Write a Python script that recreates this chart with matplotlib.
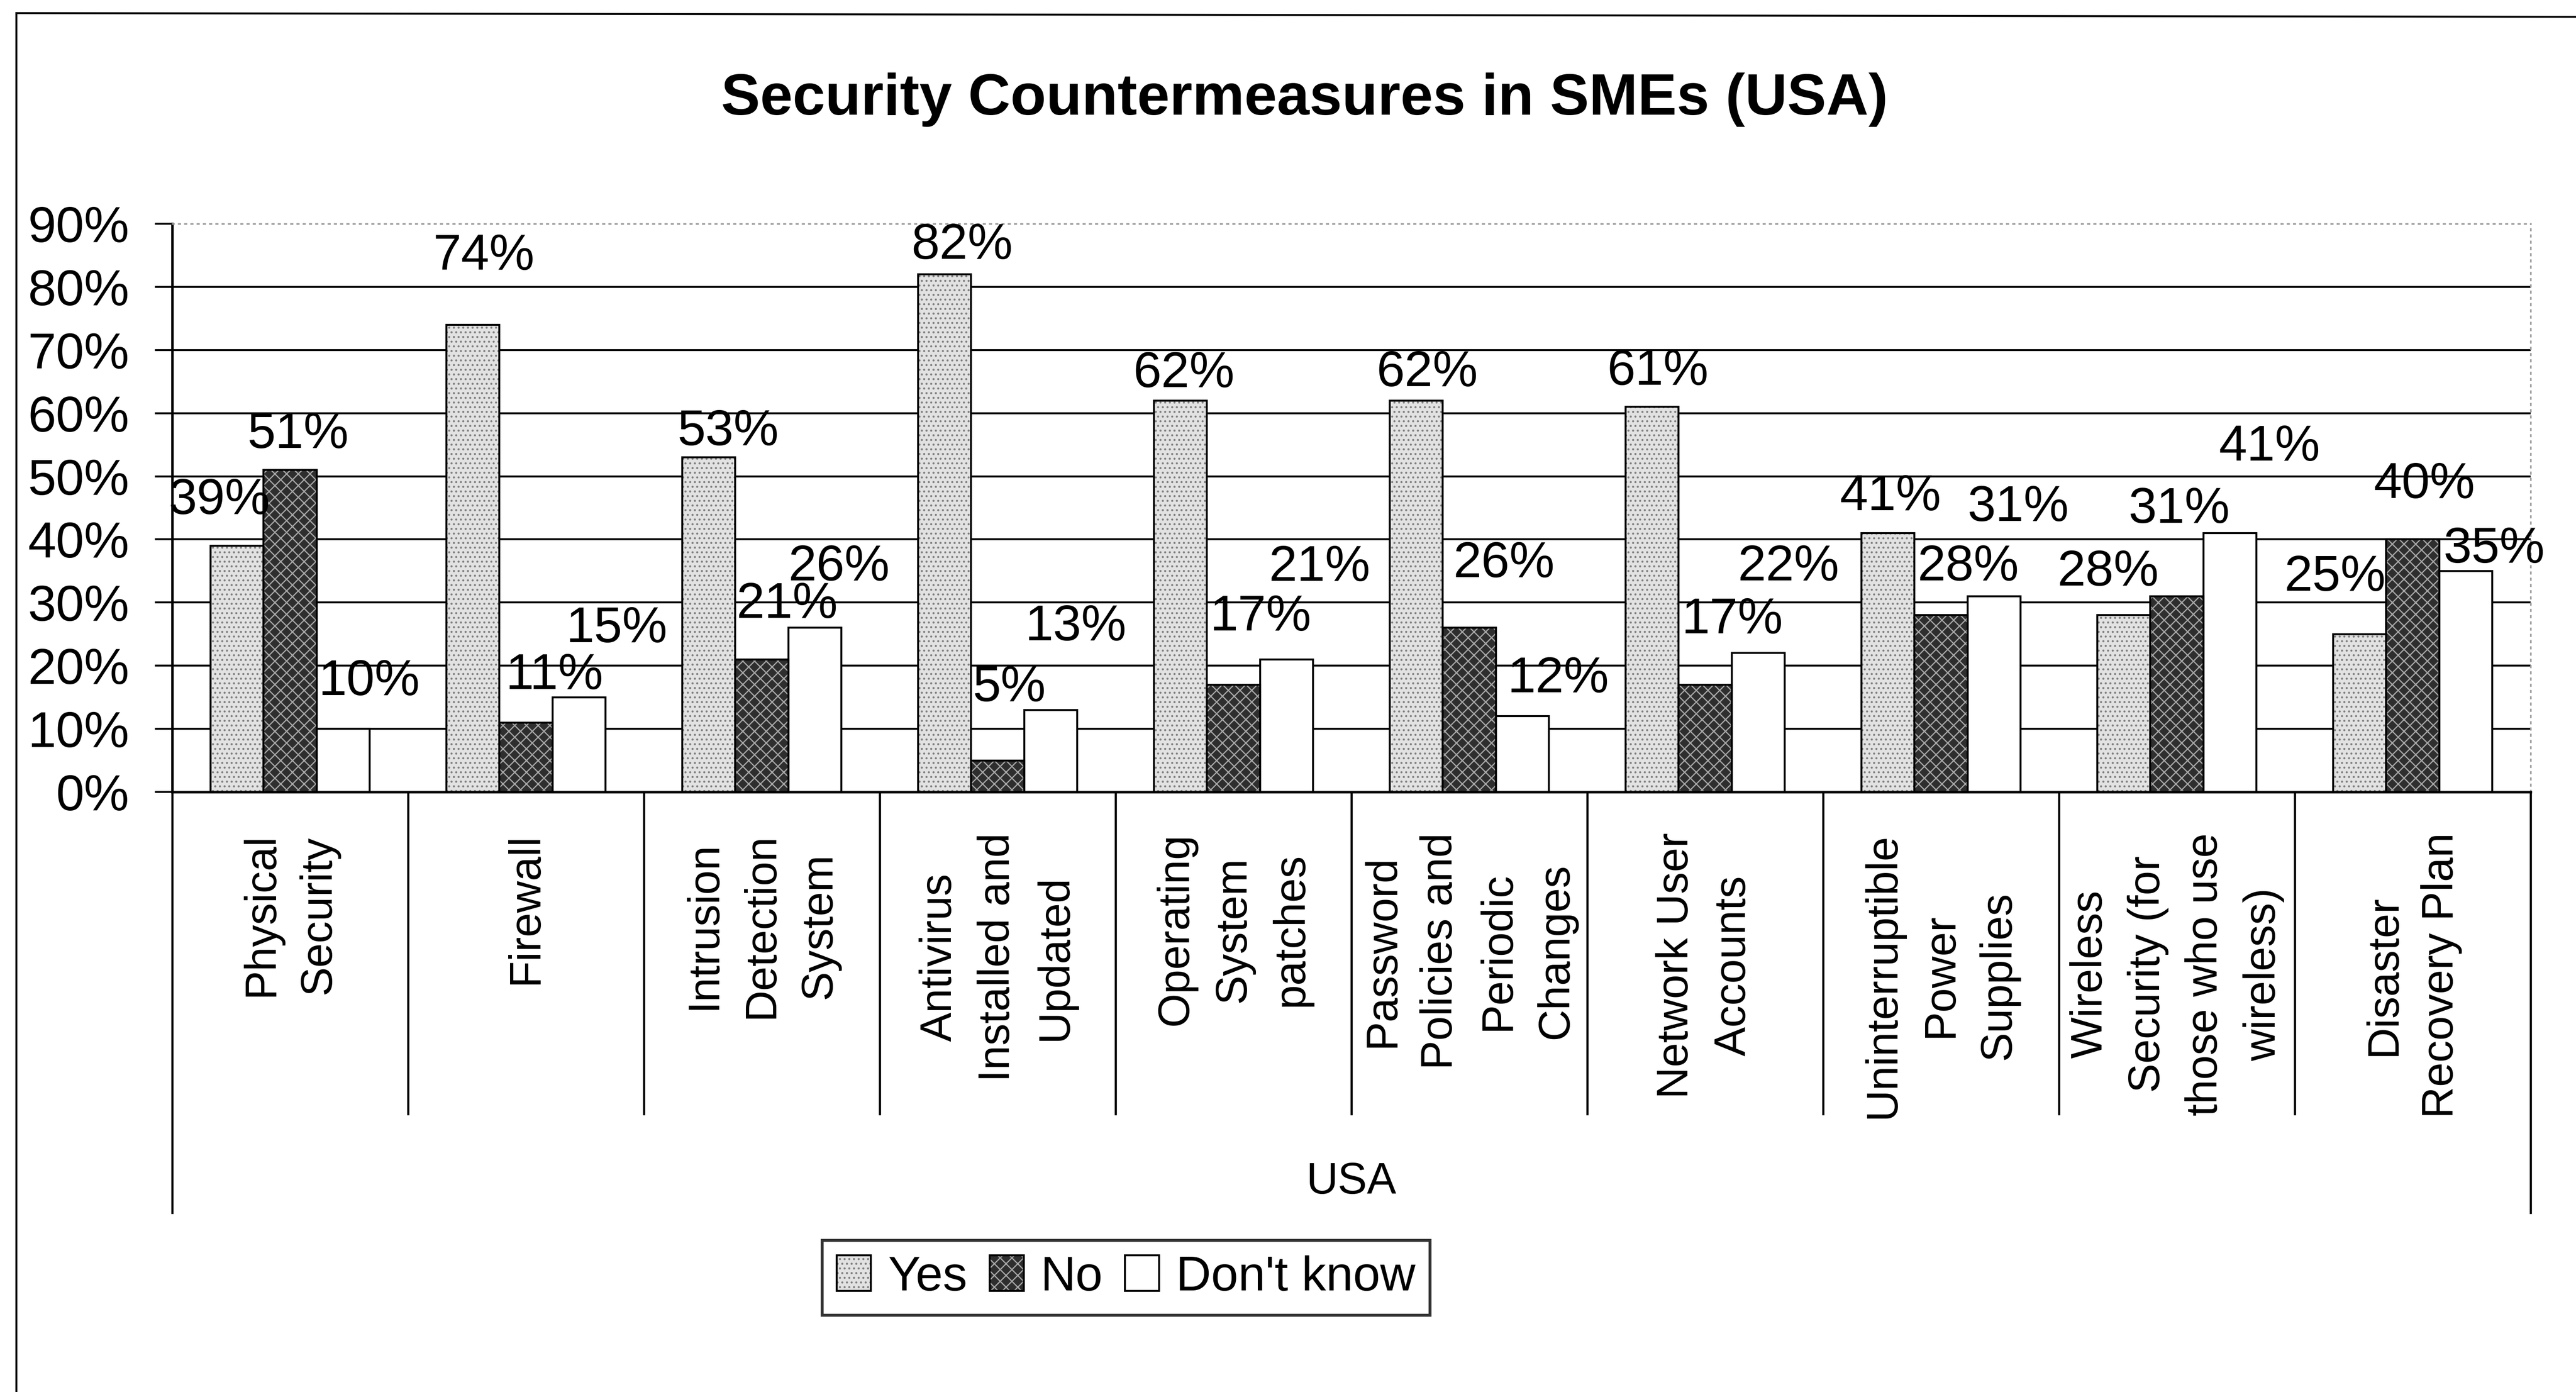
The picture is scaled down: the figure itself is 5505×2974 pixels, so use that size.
import numpy as np
import matplotlib.pyplot as plt
from matplotlib.patches import Patch
from matplotlib.lines import Line2D
from matplotlib.legend_handler import HandlerTuple
from matplotlib.ticker import FuncFormatter

plt.rcParams['font.family'] = ['Liberation Sans', 'DejaVu Sans']
plt.rcParams['hatch.linewidth'] = 0.6

categories = [
    "Physical\nSecurity",
    "Firewall",
    "Intrusion\nDetection\nSystem",
    "Antivirus\nInstalled and\nUpdated",
    "Operating\nSystem\npatches",
    "Password\nPolicies and\nPeriodic\nChanges",
    "Network User\nAccounts",
    "Uninterruptible\nPower\nSupplies",
    "Wireless\nSecurity (for\nthose who use\nwireless)",
    "Disaster\nRecovery Plan",
]
series = ["Yes", "No", "Don't know"]
yes = [39, 74, 53, 82, 62, 62, 61, 41, 28, 25]
no = [51, 11, 21, 5, 17, 26, 17, 28, 31, 40]
dont_know = [10, 15, 26, 13, 21, 12, 22, 31, 41, 35]
values = [yes, no, dont_know]

# label nudges (points) from the bar top, the way they sit in the original chart
label_nudge = [
    [(-9, 23), (5.5, 35), (10, 13), (9, 14.5), (1.7, 13.7), (5.5, 14), (3, 18), (1.4, 18.5), (-8, 22), (-12.7, 29)],
    [(4, 18), (14.6, 24), (13, 28), (6, 37), (14, 34.6), (17.8, 32.6), (14, 33), (14, 24.5), (1.2, 44.4), (6, 28)],
    [(13.4, 24), (19.4, 35), (12.5, 31), (13, 42.5), (17, 47), (18.5, 19), (15.4, 44), (12.5, 45.4), (20.4, 44), (14.6, 11)],
]

styles = [
    dict(face='#e2e2e2', hatch='.....', hatchcol='#808080'),
    dict(face='#2e2e2e', hatch='xxxx', hatchcol='#a8a8a8'),
    dict(face='white', hatch=None, hatchcol='black'),
]

fig = plt.figure(figsize=(5505 / 300, 2974 / 300), dpi=300)
ax = fig.add_axes([0.06685, 0.43107, 0.91553, 0.40821])

x = np.arange(len(categories)) + 0.5
w = 0.225
for k, (vals, st) in enumerate(zip(values, styles)):
    pos = x + (k - 1) * w
    ax.bar(pos, vals, w, color=st['face'], hatch=st['hatch'],
           edgecolor=st['hatchcol'], linewidth=0, zorder=2)
    ax.bar(pos, vals, w, fill=False, edgecolor='black', linewidth=1.0, zorder=3)
    for xi, v, (dx, dy) in zip(pos, vals, label_nudge[k]):
        ax.annotate(f"{v}%", (xi, v), xytext=(dx, dy), textcoords='offset points',
                    ha='center', va='center', fontsize=26, zorder=4)

for g in range(10, 90, 10):
    ax.axhline(g, color='black', lw=1.0, zorder=1)

ax.set_xlim(0, len(categories))
ax.set_ylim(0, 90)
ax.set_yticks(range(0, 91, 10))
ax.yaxis.set_major_formatter(FuncFormatter(lambda v, p: f"{int(v)}%"))
ax.tick_params(axis='y', direction='out', length=9, width=1.0, pad=13, labelsize=26)

ax.set_xticks(x)
ax.set_xticklabels(categories, rotation=90, fontsize=22.5, linespacing=1.5,
                   ha='center', va='top', multialignment='center')
ax.tick_params(axis='x', length=0, pad=21)

for side in ['top', 'right']:
    ax.spines[side].set_linestyle((0, (1, 3)))
    ax.spines[side].set_color('#9a9a9a')
    ax.spines[side].set_linewidth(0.8)
ax.spines['left'].set_linewidth(1.3)
ax.spines['bottom'].set_linewidth(1.3)

# category divider lines below the axis
for b in range(len(categories) + 1):
    low = -0.7405 if b in (0, len(categories)) else -0.5667
    ax.axvline(b, ymin=low, ymax=0, color='black', lw=1.1, clip_on=False)

ax.text(0.5, -0.6867, "USA", transform=ax.transAxes, ha='center', va='center', fontsize=22.5)

fig.text(0.5065, 0.9176, "Security Countermeasures in SMEs (USA)", ha='center',
         va='baseline', fontsize=30, fontweight='bold')

handles = []
for st in styles:
    handles.append((Patch(facecolor=st['face'], hatch=st['hatch'], edgecolor=st['hatchcol'], linewidth=0),
                    Patch(fill=False, edgecolor='black', linewidth=1.0)))
leg = fig.legend(handles, series, loc='center', bbox_to_anchor=(0.4372, 0.082), ncol=3,
                 frameon=True, fancybox=False, edgecolor='black', fontsize=25,
                 handlelength=0.7, handleheight=0.75, handletextpad=0.35,
                 columnspacing=0.45, borderpad=0.3,
                 handler_map={tuple: HandlerTuple(ndivide=1, pad=0)})
leg.get_frame().set_linewidth(1.5)

# scanned frame edge
fig.add_artist(Line2D([35 / 5505, 35 / 5505], [0, 1 - 28 / 2974], transform=fig.transFigure,
                      color='black', lw=1.0))
fig.add_artist(Line2D([35 / 5505, 1], [1 - 28 / 2974, 1 - 36 / 2974], transform=fig.transFigure,
                      color='black', lw=1.0))

fig.savefig("out.png", dpi=300)
